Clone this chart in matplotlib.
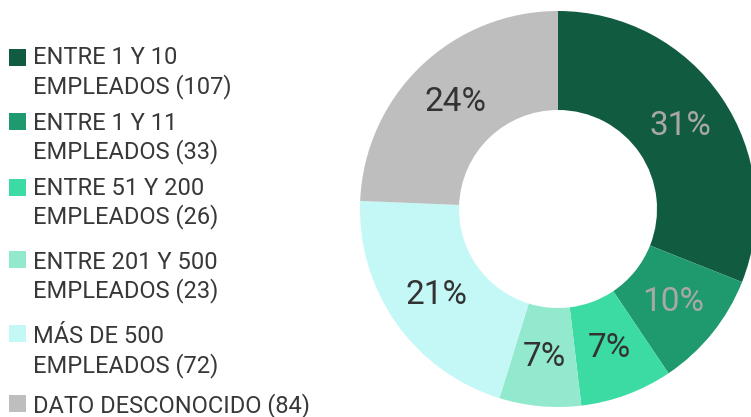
import matplotlib.pyplot as plt
import numpy as np
from matplotlib.patches import Rectangle

plt.rcParams['font.family'] = ['Roboto', 'DejaVu Sans']

categories = [
    ("ENTRE 1 Y 10", "EMPLEADOS (107)"),
    ("ENTRE 1 Y 11", "EMPLEADOS (33)"),
    ("ENTRE 51 Y 200", "EMPLEADOS (26)"),
    ("ENTRE 201 Y 500", "EMPLEADOS (23)"),
    ("MÁS DE 500", "EMPLEADOS (72)"),
    ("DATO DESCONOCIDO (84)",),
]
counts = [107, 33, 26, 23, 72, 84]
pct_labels = ["31%", "10%", "7%", "7%", "21%", "24%"]
colors = ["#115c40", "#1f9a6e", "#3ddba4", "#93e9cd", "#c4f8f6", "#bebebe"]
label_colors = ["#a8a8a8", "#a8a8a8", "#333333", "#333333", "#333333", "#333333"]

W, H = 751, 417
fig = plt.figure(figsize=(W / 100, H / 100), dpi=100)

# donut
cx, cy, r = 558, 209, 198
ax = fig.add_axes([(cx - r) / W, (H - cy - r) / H, 2 * r / W, 2 * r / H])
wedges, _ = ax.pie(counts, colors=colors, startangle=90, counterclock=False,
                   radius=1, wedgeprops=dict(width=0.5, linewidth=0))
for w, lab, c in zip(wedges, pct_labels, label_colors):
    ang = np.deg2rad((w.theta1 + w.theta2) / 2)
    ax.text(0.75 * np.cos(ang), 0.75 * np.sin(ang), lab, ha='center', va='center',
            fontsize=24, color=c)
ax.set_xlim(-1, 1)
ax.set_ylim(-1, 1)
ax.set_aspect('equal')
ax.axis('off')

# legend, drawn by hand (uneven spacing in the original)
baselines = [(64, 93), (130, 158), (195, 223), (269, 297), (343, 372), (412,)]
square_tops = [49, 113, 179, 251, 325, 395]
for lines, bl, top, col in zip(categories, baselines, square_tops, colors):
    fig.patches.append(Rectangle((9 / W, (H - top - 17) / H), 17 / W, 17 / H,
                                 transform=fig.transFigure, facecolor=col,
                                 edgecolor='none'))
    for txt, y in zip(lines, bl):
        fig.text(33 / W, (H - y) / H, txt, ha='left', va='baseline',
                 fontsize=17, color='#383838')

fig.savefig("out.png", dpi=100)
